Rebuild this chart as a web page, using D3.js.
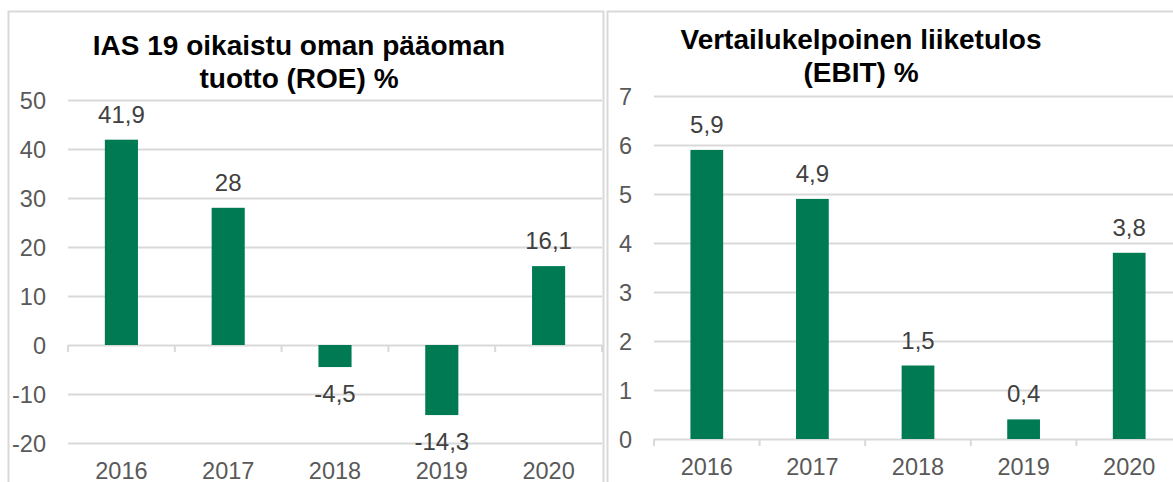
<!DOCTYPE html>
<html>
<head>
<meta charset="utf-8">
<script src="https://cdn.jsdelivr.net/npm/d3@7"></script>
<style>
  body { margin: 0; background: #fff; }
  svg { display: block; font-family: "Liberation Sans", Arial, sans-serif; }
</style>
</head>
<body>
<svg id="chart" width="1173" height="482"></svg>
<script>
// data
const years = ["2016", "2017", "2018", "2019", "2020"];
const roeValues = [41.9, 28, -4.5, -14.3, 16.1];
const ebitValues = [5.9, 4.9, 1.5, 0.4, 3.8];
const roeTicks = [50, 40, 30, 20, 10, 0, -10, -20];
const ebitTicks = [7, 6, 5, 4, 3, 2, 1, 0];
const roeTitle = ["IAS 19 oikaistu oman pääoman", "tuotto (ROE) %"];
const ebitTitle = ["Vertailukelpoinen liiketulos", "(EBIT) %"];

const barColor = "#007a53";
const gridColor = "#d9d9d9";
const fmt = v => String(v).replace(".", ",");

const svg = d3.select("#chart");

// panel frames
svg.append("rect").attr("x", 8.5).attr("y", 11.5).attr("width", 595).attr("height", 520)
   .attr("fill", "none").attr("stroke", gridColor).attr("stroke-width", 2);
svg.append("rect").attr("x", 607.5).attr("y", 11.5).attr("width", 620).attr("height", 520)
   .attr("fill", "none").attr("stroke", gridColor).attr("stroke-width", 2);

function drawPanel(opts) {
    const g = svg.append("g");
    const x = d3.scaleBand().domain(years).range([opts.x0, opts.x1]).paddingInner(0.69).paddingOuter(0.345);
    const y = d3.scaleLinear().domain(opts.domain).range(opts.yRange);

    // title
    g.append("text")
        .attr("x", opts.titleX).attr("y", opts.titleY)
        .attr("text-anchor", "middle").attr("font-size", 28).attr("font-weight", "bold").attr("fill", "#000")
        .selectAll("tspan").data(opts.title).join("tspan")
        .attr("x", opts.titleX).attr("dy", (d, i) => i ? 33 : 0).text(d => d);

    // y axis + grid
    const yAxis = g.append("g").attr("transform", `translate(${opts.x0},0)`)
        .call(d3.axisLeft(y).tickValues(opts.ticks).tickSize(-(opts.x1 - opts.x0)).tickPadding(22).tickFormat(d => d));
    yAxis.select(".domain").remove();
    yAxis.selectAll(".tick line").attr("stroke", gridColor).attr("stroke-width", 2);
    yAxis.selectAll(".tick text").attr("fill", "#595959").attr("font-size", 23.5).attr("dy", "0.36em");

    // zero line ticks between categories
    const step = x.step();
    const bounds = d3.range(years.length + 1).map(i => opts.x0 + i * step);
    g.selectAll(".cat-tick").data(bounds).join("line")
        .attr("x1", d => d).attr("x2", d => d)
        .attr("y1", y(0)).attr("y2", y(0) + 7)
        .attr("stroke", gridColor).attr("stroke-width", 2);

    // bars
    g.selectAll(".bar").data(opts.values).join("rect")
        .attr("x", (d, i) => x(years[i]))
        .attr("width", x.bandwidth())
        .attr("y", d => y(Math.max(0, d)))
        .attr("height", d => Math.abs(y(d) - y(0)))
        .attr("fill", barColor);

    // data labels
    g.selectAll(".lbl").data(opts.values).join("text")
        .attr("x", (d, i) => x(years[i]) + x.bandwidth() / 2)
        .attr("y", d => d >= 0 ? y(d) - 17 : y(d) + 35)
        .attr("text-anchor", "middle").attr("font-size", 24).attr("fill", "#404040")
        .text(d => fmt(d));

    // category labels
    const xAxis = g.append("g").attr("transform", `translate(0,${opts.labelY})`)
        .call(d3.axisBottom(x).tickSize(0).tickPadding(0));
    xAxis.select(".domain").remove();
    xAxis.selectAll(".tick text").attr("dy", 0).attr("fill", "#595959").attr("font-size", 23.5);
}

drawPanel({
    x0: 68, x1: 602, domain: [-20, 50], yRange: [443, 100],
    ticks: roeTicks, values: roeValues, title: roeTitle,
    titleX: 299, titleY: 55, labelY: 479
});

drawPanel({
    x0: 654, x1: 1182, domain: [0, 7], yRange: [439, 96],
    ticks: ebitTicks, values: ebitValues, title: ebitTitle,
    titleX: 861, titleY: 49, labelY: 475
});
</script>
</body>
</html>
